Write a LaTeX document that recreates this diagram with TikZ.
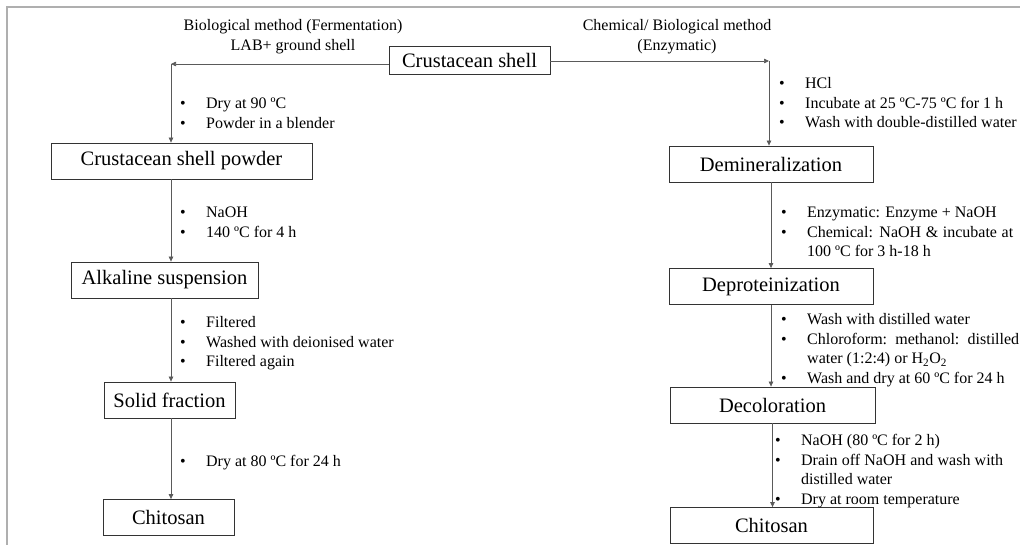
\documentclass[tikz,border=0pt]{standalone}
\usepackage{fontspec}
\setmainfont{Liberation Serif}
\usetikzlibrary{positioning,arrows.meta}
\definecolor{flLine}{RGB}{90,90,90}
\definecolor{flFrame}{RGB}{175,175,175}
\newcommand{\stepnote}[1]{\par\noindent\hangindent=26pt\hangafter=1\makebox[26pt][l]{\textbullet}#1\par}

\begin{document}
\begin{tikzpicture}[
    x=1pt, y=-1pt,
    >={Triangle[length=5pt,width=4.5pt]},
    stage box/.style={rectangle, draw=black!80, line width=0.8pt, minimum height=36pt, inner sep=0pt, font=\fontsize{20.5}{24}\selectfont},
    step note/.style={anchor=north west, inner sep=0pt, align=justify, font=\fontsize{16}{19.5}\selectfont},
    route label/.style={align=center, font=\fontsize{16}{20}\selectfont},
    link/.style={->, draw=flLine, line width=0.7pt}
]
  \useasboundingbox (0,0) rectangle (1020,545);
  \draw[flFrame, line width=1.5pt] (1020,7) -- (7,7) -- (7,545);

  % stages
  \node[stage box, minimum width=161pt, minimum height=28pt] (shell) at (469.5,60) {Crustacean shell};
  \node[stage box, minimum width=261pt] (powder) at (181.5,161) {Crustacean shell powder};
  \node[stage box, minimum width=187pt] (alkali) at (164.5,280) {Alkaline suspension};
  \node[stage box, minimum width=131pt] (solid) at (169.5,400) {Solid fraction};
  \node[stage box, minimum width=131pt] (chitoL) at (168.5,517.5) {Chitosan};
  \node[stage box, minimum width=204pt] (demin) at (771,164) {Demineralization};
  \node[stage box, minimum width=204pt] (deprot) at (771,286.5) {Deproteinization};
  \node[stage box, minimum width=205pt] (decol) at (772.5,405) {Decoloration};
  \node[stage box, minimum width=203pt] (chitoR) at (771.5,525.5) {Chitosan};

  \coordinate (bioTurn) at (171,64);
  \coordinate (chemTurn) at (769,61);

  % connectors
  \draw[link] (shell.west |- bioTurn) -- (bioTurn);
  \draw[link] (bioTurn) -- (bioTurn |- powder.north);
  \draw[link] (powder.south -| bioTurn) -- (bioTurn |- alkali.north);
  \draw[link] (alkali.south -| bioTurn) -- (bioTurn |- solid.north);
  \draw[link] (solid.south -| bioTurn) -- (bioTurn |- chitoL.north);
  \draw[link] (shell.east |- chemTurn) -- (chemTurn);
  \draw[link] (chemTurn) -- (chemTurn |- demin.north);
  \draw[link] (demin.south) -- (deprot.north);
  \draw[link] (deprot.south) -- (deprot.south |- decol.north);
  \draw[link] (decol.south) -- (decol.south |- chitoR.north);

  % route labels
  \node[route label] (bioLabel) at (293,37) {Biological method (Fermentation)\\LAB+ ground shell};
  \node[route label] (chemLabel) at (677,37) {Chemical/ Biological method\\(Enzymatic)};

  % process notes
  \node[step note, text width=250pt] (dryNote) at (180,89) {\stepnote{Dry at 90 ºC}\stepnote{Powder in a blender}};
  \node[step note, text width=250pt] (naohNote) at (180,198) {\stepnote{NaOH}\stepnote{140 ºC for 4 h}};
  \node[step note, text width=250pt] (filterNote) at (180,308) {\stepnote{Filtered}\stepnote{Washed with deionised water}\stepnote{Filtered again}};
  \node[step note, text width=250pt] (dryNoteB) at (180,447) {\stepnote{Dry at 80 ºC for 24 h}};
  \node[step note, text width=241pt] (hclNote) at (779,69) {\stepnote{HCl}\stepnote{Incubate at 25 ºC-75 ºC for 1 h}\stepnote{Wash with double-distilled water}};
  \node[step note, text width=232pt] (enzNote) at (781,198) {\stepnote{Enzymatic: Enzyme + NaOH}\stepnote{Chemical: NaOH \& incubate at 100 ºC for 3 h-18 h}};
  \node[step note, text width=238pt] (washNote) at (781,305) {\stepnote{Wash with distilled water}\stepnote{Chloroform: methanol: distilled water (1:2:4) or H\textsubscript{2}O\textsubscript{2}}\stepnote{Wash and dry at 60 ºC for 24 h}};
  \node[step note, text width=228pt] (decolNote) at (775,426) {\stepnote{NaOH (80 ºC for 2 h)}\stepnote{Drain off NaOH and wash with distilled water}\stepnote{Dry at room temperature}};
\end{tikzpicture}
\end{document}
